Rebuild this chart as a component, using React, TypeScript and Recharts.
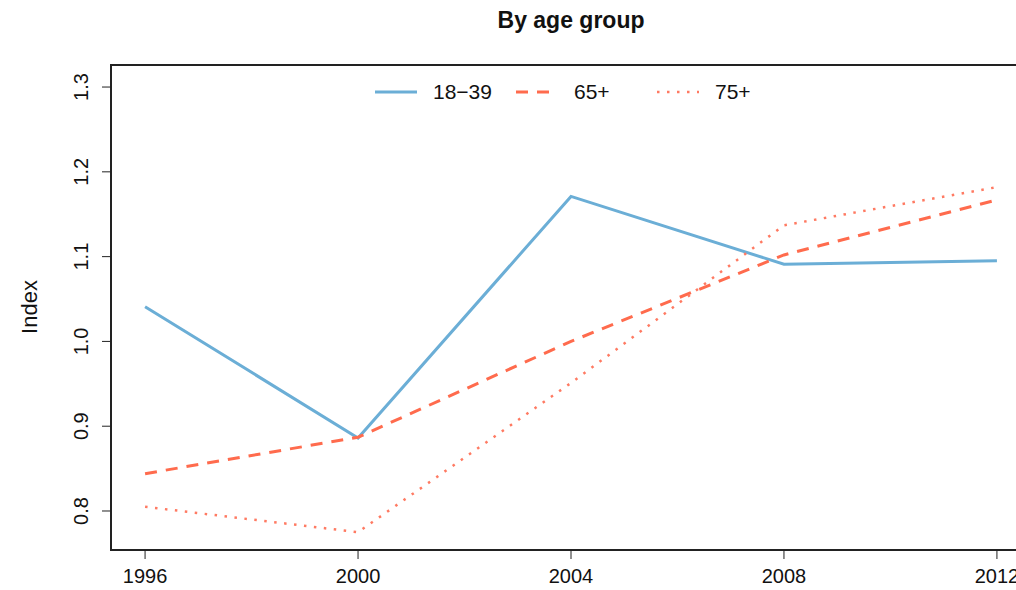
import React from 'react';
import { LineChart, Line, XAxis, YAxis, ReferenceArea } from 'recharts';

const years = [1996, 2000, 2004, 2008, 2012];
const age18to39 = [1.041, 0.886, 1.171, 1.091, 1.095];
const age65plus = [0.844, 0.887, 1.0, 1.102, 1.167];
const age75plus = [0.805, 0.775, 0.951, 1.137, 1.182];
const yTicks = [0.8, 0.9, 1.0, 1.1, 1.2, 1.3];

const FONT = '"Liberation Sans", Arial, Helvetica, sans-serif';

const series = [
  { key: 'a18', name: '18−39', color: '#6BAED6', dash: undefined, width: 3 },
  { key: 'a65', name: '65+', color: '#FF6B4D', dash: '12 9', width: 3 },
  { key: 'a75', name: '75+', color: '#FF7A62', dash: '2.5 7.5', width: 2.5 },
];

const rows = years.map((year, i) => ({
  year,
  a18: age18to39[i],
  a65: age65plus[i],
  a75: age75plus[i],
}));

const xDomain: [number, number] = [1995.36, 2012.64];
const yDomain: [number, number] = [0.754, 1.326];

const YTick = (props: any) => {
  const { x, y, payload } = props;
  return (
    <text
      x={x}
      y={y}
      transform={`rotate(-90 ${x} ${y})`}
      textAnchor="middle"
      fontSize={20}
      fontFamily={FONT}
      fill="#111"
    >
      {Number(payload.value).toFixed(1)}
    </text>
  );
};

// legend drawn outside the chart so it doesn't push the plot down
const LegendBox = () => (
  <div
    style={{
      position: 'absolute',
      top: 77,
      left: 0,
      height: 30,
      width: 1040,
      fontFamily: FONT,
      fontSize: 21,
      color: '#111',
      zIndex: 2,
    }}
  >
    {series.map((s, i) => (
      <div
        key={s.key}
        style={{ position: 'absolute', left: 374 + i * 141, top: 0, display: 'flex', alignItems: 'center', height: 30 }}
      >
        <svg width={44} height={10}>
          <line x1={1} y1={5} x2={43} y2={5} stroke={s.color} strokeWidth={s.width} strokeDasharray={s.dash} />
        </svg>
        <span style={{ marginLeft: 15 }}>{s.name}</span>
      </div>
    ))}
  </div>
);

export default function App() {
  return (
    <div style={{ position: 'absolute', left: 0, top: 0, width: 1016, height: 590, overflow: 'hidden', background: '#fff' }}>
      <div
        style={{
          position: 'absolute',
          top: 7,
          left: 0,
          width: 1142,
          textAlign: 'center',
          fontFamily: FONT,
          fontWeight: 'bold',
          fontSize: 23,
          color: '#111',
        }}
      >
        By age group
      </div>
      <div
        style={{
          position: 'absolute',
          left: 30,
          top: 307,
          transform: 'translate(-50%, -50%) rotate(-90deg)',
          fontFamily: FONT,
          fontSize: 22,
          color: '#111',
          whiteSpace: 'nowrap',
        }}
      >
        Index
      </div>
      <LegendBox />
      <LineChart width={1040} height={590} data={rows} margin={{ top: 65, right: 9, bottom: 0, left: 51 }}>
        <XAxis
          dataKey="year"
          type="number"
          domain={xDomain}
          ticks={years}
          allowDataOverflow
          axisLine={false}
          tickLine={{ stroke: '#222', strokeWidth: 1 }}
          tickSize={9}
          tickMargin={10}
          height={40}
          tick={{ fontSize: 20, fontFamily: FONT, fill: '#111' }}
        />
        <YAxis
          type="number"
          domain={yDomain}
          ticks={yTicks}
          allowDataOverflow
          axisLine={false}
          tickLine={{ stroke: '#222', strokeWidth: 1 }}
          tickSize={9}
          tickMargin={14}
          width={60}
          tick={<YTick />}
        />
        <ReferenceArea
          x1={xDomain[0]}
          x2={xDomain[1]}
          y1={yDomain[0]}
          y2={yDomain[1]}
          fill="none"
          stroke="#222"
          strokeWidth={2}
          ifOverflow="visible"
        />
        {series.map((s) => (
          <Line
            key={s.key}
            dataKey={s.key}
            name={s.name}
            type="linear"
            stroke={s.color}
            strokeWidth={s.width}
            strokeDasharray={s.dash}
            dot={false}
            activeDot={false}
            isAnimationActive={false}
          />
        ))}
      </LineChart>
    </div>
  );
}
